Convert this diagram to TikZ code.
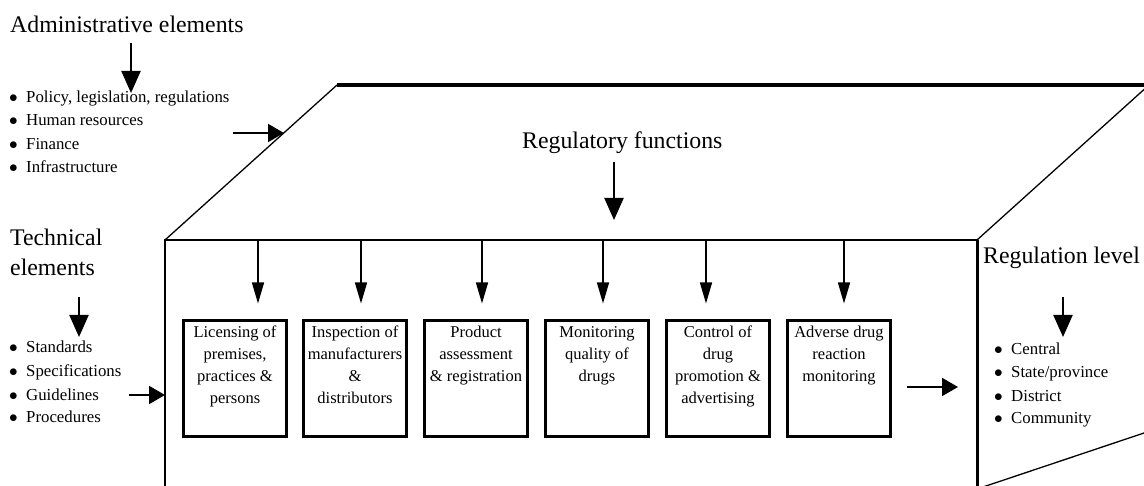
\documentclass[tikz,border=0pt]{standalone}
\usepackage{fontspec}
\setmainfont{Liberation Serif}
\usetikzlibrary{arrows.meta,calc}
\newcommand\btxt[1]{\parbox[t][115pt][t]{103pt}{\centering\rule{0pt}{16.5pt}#1}}
\newcommand\bul{\makebox[16pt][l]{\hspace{-1pt}$\bullet$}}
\begin{document}
\begin{tikzpicture}[x=1pt,y=-1pt,
  lbl/.style={inner sep=0pt, anchor=base west, font=\fontsize{23.8}{28}\selectfont},
  itm/.style={inner sep=0pt, anchor=base west, font=\fontsize{16.8}{20}\selectfont},
  fbox/.style={draw, line width=3pt, inner sep=0pt, anchor=north, font=\fontsize{16.5}{22}\selectfont},
  bigarrow/.style={line width=2.2pt, -{Triangle[width=19pt,length=22pt]}},
  smallarrow/.style={line width=1.4pt, -{Triangle[width=12pt,length=21pt]}},
  sidearrow/.style={line width=2pt, -{Triangle[width=18pt,length=16pt]}},
  frame/.style={line width=1.3pt},
]
\useasboundingbox (0,0) rectangle (1144,486);
\clip (0,0) rectangle (1144,486);

% cube outline
\coordinate (FL) at (165,240);
\coordinate (FR) at (977,240);
\coordinate (BL) at (337,85);
\coordinate (BR) at (1149,85);
\coordinate (FLb) at (165,492);
\coordinate (FRb) at (977,492);
\coordinate (RB1) at (977,489);
\coordinate (RB2) at (1150,431);
\draw[frame] (FLb) -- (FL) -- (FR);
\draw[frame] (FL) -- (BL);
\draw[frame] (FR) -- (BR);
\draw[line width=3.5pt] (BL) -- (BR);
\draw[line width=3pt] (FR) -- (FRb);
\draw[frame] (RB1) -- (RB2);

% labels
\node[lbl] (adm) at (10,33) {Administrative elements};
\node[lbl] (reg) at (522,149) {Regulatory functions};
\node[lbl] (tech1) at (10,246) {Technical};
\node[lbl] (tech2) at (10,276) {elements};
\node[lbl] (lev) at (983,264) {Regulation level};

% bullet lists
\node[itm] (a1) at (10,103) {\bul Policy, legislation, regulations};
\node[itm] (a2) at (10,126) {\bul Human resources};
\node[itm] (a3) at (10,150) {\bul Finance};
\node[itm] (a4) at (10,173) {\bul Infrastructure};

\node[itm] (t1) at (10,353) {\bul Standards};
\node[itm] (t2) at (10,377) {\bul Specifications};
\node[itm] (t3) at (10,400) {\bul Guidelines};
\node[itm] (t4) at (10,423) {\bul Procedures};

\node[itm] (l1) at (995,355) {\bul Central};
\node[itm] (l2) at (995,378) {\bul State/province};
\node[itm] (l3) at (995,402) {\bul District};
\node[itm] (l4) at (995,424) {\bul Community};

% function boxes
\node[fbox] (b1) at (235,319.5) {\btxt{Licensing of\\premises,\\practices \&\\persons}};
\node[fbox] (b2) at (355,319.5) {\btxt{Inspection of\\manufacturers\\\&\\distributors}};
\node[fbox] (b3) at (476,319.5) {\btxt{Product\\assessment\\\& registration}};
\node[fbox] (b4) at (597,319.5) {\btxt{Monitoring\\quality of\\drugs}};
\node[fbox] (b5) at (718,319.5) {\btxt{Control of\\drug\\promotion \&\\advertising}};
\node[fbox] (b6) at (839,319.5) {\btxt{Adverse drug\\reaction\\monitoring}};

% arrows from the front top edge to boxes
\foreach \x/\b in {258/b1,361/b2,482/b3,603/b4,706/b5,844/b6}{
  \coordinate (s\b) at (\x,240);
  \draw[smallarrow, shorten >=16pt] (s\b) -- (s\b |- \b.north);
}

% big vertical arrows
\coordinate (admA) at (131,43);  \coordinate (admB) at (131,93);
\coordinate (regA) at (614,162); \coordinate (regB) at (614,220);
\coordinate (tecA) at (79,297);  \coordinate (tecB) at (79,337);
\coordinate (levA) at (1063,297); \coordinate (levB) at (1063,337);
\draw[bigarrow] (admA) -- (admB);
\draw[bigarrow] (regA) -- (regB);
\draw[bigarrow] (tecA) -- (tecB);
\draw[bigarrow] (levA) -- (levB);

% side arrows
\coordinate (slA) at (233,133); \coordinate (slB) at (284,133);
\coordinate (frA) at (129,395); \coordinate (frB) at (165,395);
\coordinate (rtA) at (907,387); \coordinate (rtB) at (958,387);
\draw[sidearrow] (slA) -- (slB);
\draw[sidearrow] (frA) -- (frB);
\draw[sidearrow] (rtA) -- (rtB);
\end{tikzpicture}
\end{document}
